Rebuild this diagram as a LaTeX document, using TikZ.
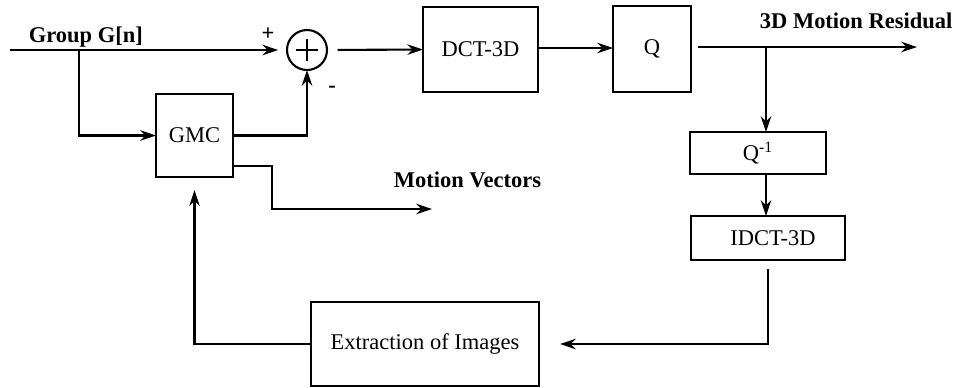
\documentclass[tikz,border=0pt]{standalone}
\usepackage{fontspec}
\setmainfont{Liberation Serif}
\usetikzlibrary{arrows.meta}

\begin{document}
\begin{tikzpicture}[x=0.02cm,y=-0.02cm,line width=1.2pt,
  font=\fontsize{12.8}{15}\selectfont,
  arr/.style={-{Stealth[length=9pt,width=6pt,inset=3pt]}},
  blk/.style={draw,inner sep=0pt,outer sep=0pt}]
  \useasboundingbox (0,0) rectangle (957,387);
  \node[blk,minimum width=1.54cm,minimum height=1.66cm] (gmc) at (194.5,135.5) {GMC};
  \node[draw,circle,minimum size=0.8cm,inner sep=0pt,outer sep=0pt] (sum) at (307,50) {};
  \draw (sum.center) +(-11,0) -- +(11,0) +(0,-11) -- +(0,11);
  \node[blk,minimum width=2.3cm,minimum height=1.7cm] (dct) at (480.5,49.5) {DCT-3D};
  \node[blk,minimum width=1.56cm,minimum height=1.72cm] (q) at (652,49) {Q};
  \node[blk,minimum width=2.72cm,minimum height=0.84cm] (qinv) at (758,153) {Q\textsuperscript{-1}};
  \node[blk,minimum width=3.08cm,minimum height=0.88cm] (idct) at (768,238) {\hspace{0.2cm}IDCT-3D};
  \node[blk,minimum width=4.56cm,minimum height=1.68cm] (extr) at (425,344) {Extraction of Images};
  \coordinate (in) at (10,50);
  \coordinate (br1) at (79,50);
  \coordinate (out) at (917,47);
  \coordinate (br2) at (766,47);
  \coordinate (mv) at (432,209);
  \draw[arr,shorten >=5pt] (in) -- (sum.west);
  \draw[arr] (br1) |- (gmc.west);
  \draw[arr] (gmc.east) -| (sum.south);
  \draw[arr,shorten <=6pt] (sum.east) -- (dct.west);
  \draw[arr] (dct.east |- 0,48) -- (q.west |- 0,48);
  \draw[arr,shorten <=4pt] (q.east |- out) -- (out);
  \draw[arr] (br2) -- (br2 |- qinv.north);
  \draw[arr] (br2 |- qinv.south) -- (br2 |- idct.north);
  \draw[arr,shorten <=5pt,shorten >=12pt] (idct.south) |- (extr.east);
  \draw[arr,shorten >=7.5pt] (extr.west) -| (gmc.south);
  \draw[arr] (gmc.east |- 0,166) -- (272,166) |- (mv);
  \node[anchor=base west,font=\fontsize{12.8}{15}\selectfont\bfseries] (lgrp) at (22,42) {Group G[n]};
  \node[anchor=base west,font=\fontsize{12.8}{15}\selectfont\bfseries] (lres) at (753,28) {3D Motion Residual};
  \node[anchor=base west,font=\fontsize{12.8}{15}\selectfont\bfseries] (lmv) at (387,187) {Motion Vectors};
  \node[font=\fontsize{12.8}{15}\selectfont\bfseries] (lplus) at (268,34) {+};
  \node[font=\fontsize{12.8}{15}\selectfont\bfseries] (lminus) at (332,89) {-};
\end{tikzpicture}
\end{document}
